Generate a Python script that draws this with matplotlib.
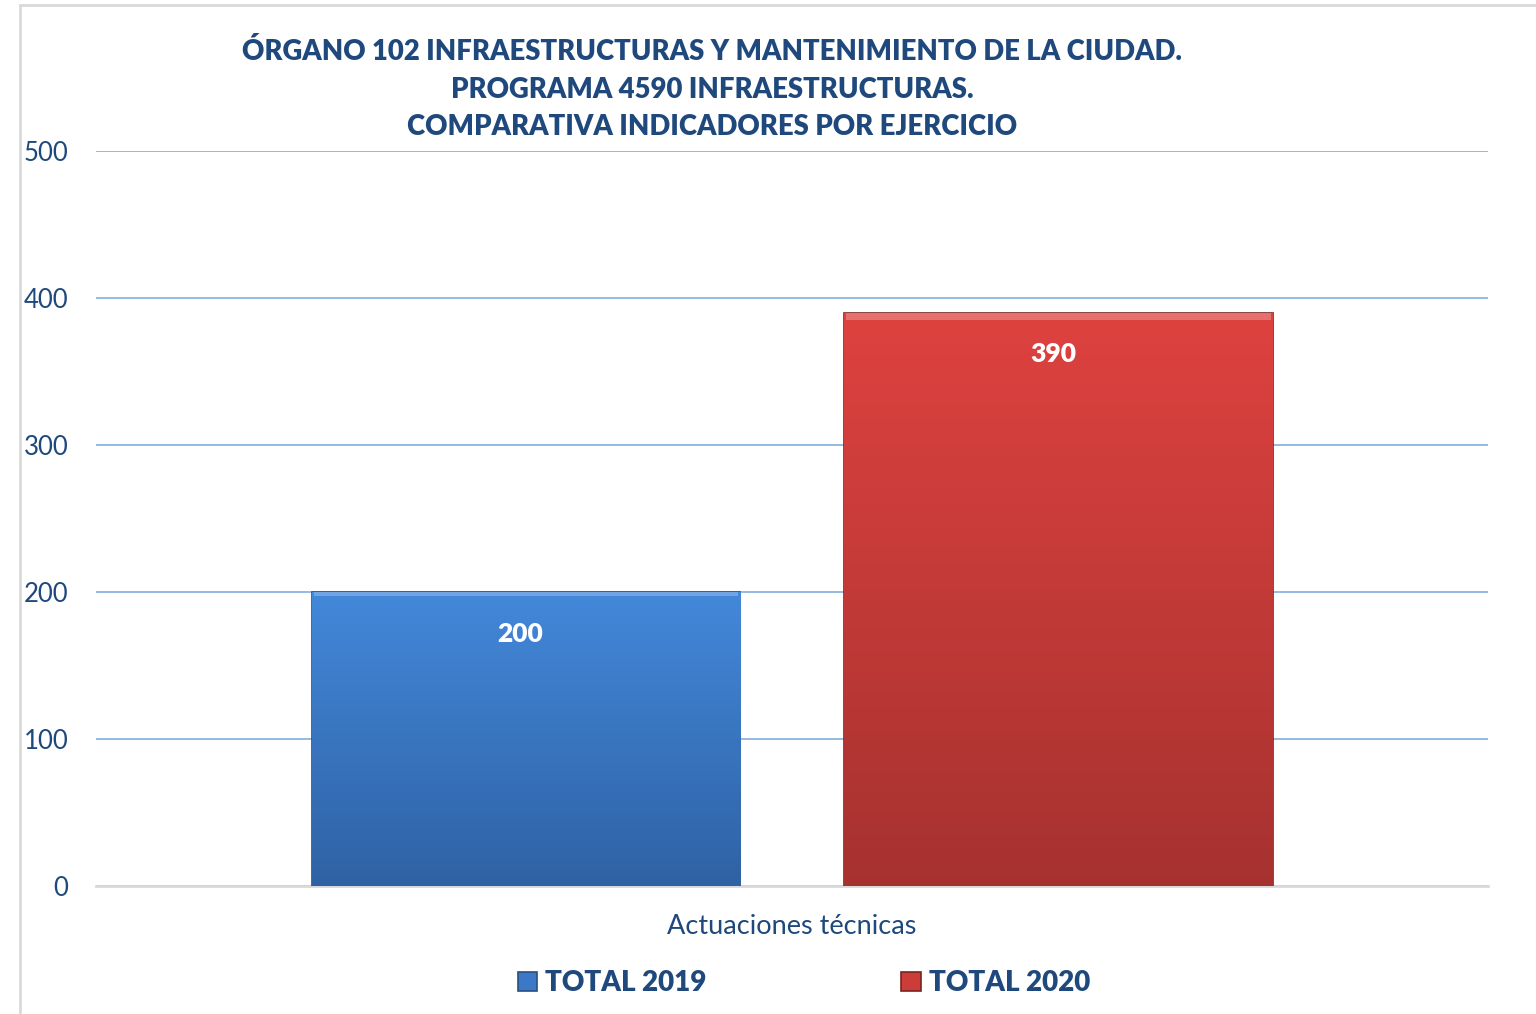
import numpy as np
import matplotlib
matplotlib.use('Agg')
import matplotlib.pyplot as plt
from matplotlib.patches import Rectangle
from matplotlib.colors import LinearSegmentedColormap

plt.rcParams['font.family'] = ['Lato', 'DejaVu Sans']

# data
category = 'Actuaciones técnicas'
series = ['TOTAL 2019', 'TOTAL 2020']
values = [200, 390]
title_lines = ['ÓRGANO 102 INFRAESTRUCTURAS Y MANTENIMIENTO DE LA CIUDAD.',
               'PROGRAMA 4590 INFRAESTRUCTURAS.',
               'COMPARATIVA INDICADORES POR EJERCICIO']

navy = '#1F497D'
colors = ['#3B79C6', '#CC3C39']
grads = [('#4388DA', '#2F62A4'), ('#DE423F', '#A63230')]
edges = ['#284F80', '#7A2422']

fig = plt.figure(figsize=(15.36, 10.14), dpi=100)
ax = fig.add_axes([96/1536, 1-886/1014, 1392/1536, 735/1014])

# outer chart frame
fig.patches.append(Rectangle((20/1536, -0.05), 1.2, 1.05-5/1014, transform=fig.transFigure,
                             fill=False, edgecolor='#D9D9D9', linewidth=2))

offs = [-0.191, 0.1915]
width = 0.308
bars = []
for i in range(len(series)):
    b = ax.bar(offs[i], values[i], width=width, color=colors[i], label=series[i],
               edgecolor=edges[i], linewidth=1.2, zorder=3)
    bars.append(b)
    rect = b.patches[0]
    cmap = LinearSegmentedColormap.from_list('g', [grads[i][1], grads[i][0]])
    grad = np.linspace(0, 1, 256).reshape(-1, 1)
    im = ax.imshow(grad, cmap=cmap, aspect='auto', origin='lower',
                   extent=[offs[i]-width/2, offs[i]+width/2, 0, values[i]], zorder=4)
    im.set_clip_path(rect)
    # highlight strip on top
    ax.bar(offs[i], values[i]*0.012, bottom=values[i]*0.988, width=width*0.99,
           color='white', alpha=0.25, linewidth=0, zorder=5)
    ax.annotate(str(values[i]), (offs[i]-0.004, values[i]), xytext=(0, -30), textcoords='offset points',
                ha='center', va='center', color='white', fontsize=19, fontweight='heavy', zorder=6)

ax.set_xlim(-0.5, 0.5)
ax.set_ylim(0, 500)
ax.set_yticks([0, 100, 200, 300, 400, 500])
ax.yaxis.grid(True, color='#8DB4E2', linewidth=1.3, zorder=0)
ax.set_axisbelow(True)
for s in ['top', 'right', 'left']:
    ax.spines[s].set_visible(False)
ax.spines['bottom'].set_color('#D9D9D9')
ax.spines['bottom'].set_linewidth(2)
ax.set_xticks([])
ax.tick_params(axis='y', length=0, pad=20, labelsize=18.5, labelcolor=navy)

fig.text(792/1536, 1-927/1014, category, ha='center', va='center', fontsize=19.5, color=navy)

fig.text(712/1536, 1-89/1014, '\n'.join(title_lines), ha='center', va='center',
         fontsize=19.8, fontweight='heavy', color=navy, linespacing=1.57)

leg = fig.legend(handles=[b.patches[0] for b in bars], labels=series, ncol=2, loc='center',
                 bbox_to_anchor=(804/1536, 1-983/1014), frameon=False,
                 prop={'weight': 'heavy', 'size': 20}, labelcolor=navy,
                 handlelength=0.7, handleheight=0.7, handletextpad=0.3, columnspacing=7.0)

fig.savefig('out.png', dpi=100)
